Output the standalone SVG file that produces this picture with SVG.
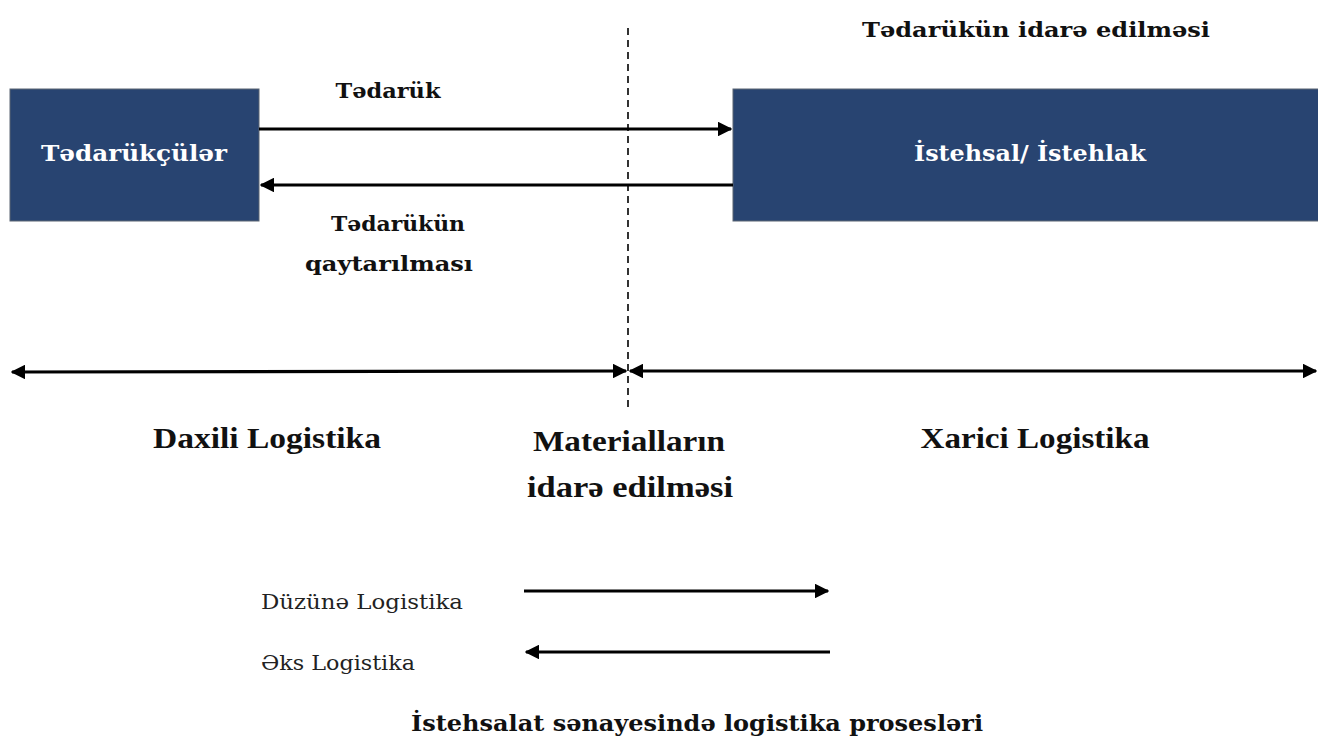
<svg xmlns="http://www.w3.org/2000/svg" width="1318" height="738" viewBox="0 0 1318 738">
<style>
.box{fill:#284471;stroke:#5a6473;stroke-width:1}
.bt{font-family:"DejaVu Serif","Liberation Serif",serif;font-weight:bold;fill:#ffffff;font-size:22px;text-anchor:middle}
.lb{font-family:"DejaVu Serif","Liberation Serif",serif;font-weight:bold;fill:#111111;font-size:21px;text-anchor:middle}
.big{font-family:"Liberation Serif","DejaVu Serif",serif;font-weight:bold;fill:#111111;font-size:29px;text-anchor:middle}
.reg{font-family:"DejaVu Serif","Liberation Serif",serif;fill:#222222;font-size:20px}
.ln{stroke:#000;stroke-width:3.2;fill:none}
.dash{stroke:#000;stroke-width:1.6;stroke-dasharray:7,5;fill:none}
</style>
<defs>
<marker id="ah" viewBox="0 0 10 10" refX="9" refY="5" markerWidth="4.6" markerHeight="4.6" orient="auto-start-reverse" markerUnits="strokeWidth">
<path d="M0,0 L10,5 L0,10 z" fill="#000"/>
</marker>
</defs>
<g id="title-top"><text class="lb" x="1036" y="37" textLength="348" lengthAdjust="spacingAndGlyphs">Tədarükün idarə edilməsi</text></g>
<g id="node-suppliers">
<rect class="box" x="10" y="89" width="249" height="132"/>
<text class="bt" x="134" y="161" textLength="186" lengthAdjust="spacingAndGlyphs">Tədarükçülər</text>
</g>
<g id="node-production">
<rect class="box" x="733" y="89" width="590" height="132"/>
<text class="bt" x="1030" y="161" textLength="232" lengthAdjust="spacingAndGlyphs">İstehsal/ İstehlak</text>
</g>
<g id="connectors">
<line class="dash" x1="628" y1="28" x2="628" y2="408"/>
<line class="ln" x1="259" y1="129" x2="731" y2="129" marker-end="url(#ah)"/>
<line class="ln" x1="733" y1="185" x2="261" y2="185" marker-end="url(#ah)"/>
<line class="ln" x1="12" y1="372" x2="626" y2="371" marker-start="url(#ah)" marker-end="url(#ah)"/>
<line class="ln" x1="630" y1="371" x2="1316" y2="371" marker-start="url(#ah)" marker-end="url(#ah)"/>
<line class="ln" x1="524" y1="591" x2="828" y2="591" marker-end="url(#ah)"/>
<line class="ln" x1="830" y1="652" x2="526" y2="652" marker-end="url(#ah)"/>
</g>
<g id="labels">
<text class="lb" x="388" y="98" textLength="105" lengthAdjust="spacingAndGlyphs">Tədarük</text>
<text class="lb" x="398" y="231" textLength="134" lengthAdjust="spacingAndGlyphs">Tədarükün</text>
<text class="lb" x="389" y="271" textLength="168" lengthAdjust="spacingAndGlyphs">qaytarılması</text>
<text class="big" x="267" y="448" textLength="228" lengthAdjust="spacingAndGlyphs">Daxili Logistika</text>
<text class="big" x="629" y="451" textLength="192" lengthAdjust="spacingAndGlyphs">Materialların</text>
<text class="big" x="630" y="497" textLength="206" lengthAdjust="spacingAndGlyphs">idarə edilməsi</text>
<text class="big" x="1035" y="448" textLength="229" lengthAdjust="spacingAndGlyphs">Xarici Logistika</text>
<text class="reg" x="261" y="609" textLength="202" lengthAdjust="spacingAndGlyphs">Düzünə Logistika</text>
<text class="reg" x="261" y="670" textLength="154" lengthAdjust="spacingAndGlyphs">Əks Logistika</text>
<text class="lb" x="697" y="731" textLength="572" lengthAdjust="spacingAndGlyphs" style="font-size:23px">İstehsalat sənayesində logistika prosesləri</text>
</g>
</svg>
